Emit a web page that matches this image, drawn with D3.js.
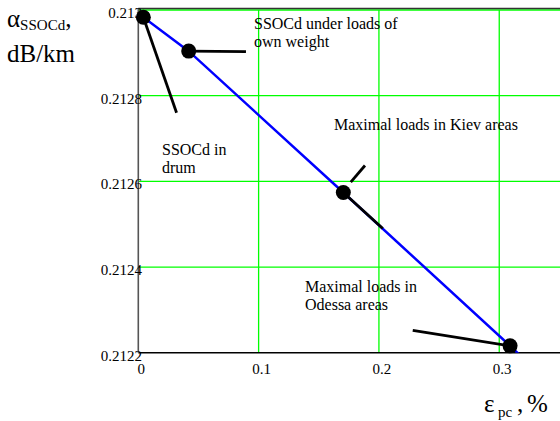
<!DOCTYPE html>
<html><head><meta charset="utf-8">
<script src="https://cdn.jsdelivr.net/npm/d3@7/dist/d3.min.js"></script>
<style>body{margin:0;background:#fff} svg{display:block}</style>
</head><body><svg id="c" width="560" height="421"></svg>
<script>
// Blue curve
const lineX = [0, 0.0419, 0.1704, 0.309, 0.33];
const lineY = [0.212992, 0.212904, 0.212574, 0.212216, 0.21216];
// Highlighted points
const markerX = [0.0042, 0.0419, 0.1704, 0.309];
const markerY = [0.212983, 0.212904, 0.212574, 0.212216];
// Ticks
const xTicks = [0, 0.1, 0.2, 0.3];
const xTickLabels = ["0", "0.1", "0.2", "0.3"];
const yTicks = [0.2122, 0.2124, 0.2126, 0.2128, 0.213];
const yTickLabels = ["0.2122", "0.2124", "0.2126", "0.2128", "0.213"];
// Leader lines (data units)
const leadX1 = [0.0042, 0.0419, 0.1766, 0.1704, 0.309];
const leadY1 = [0.212983, 0.212904, 0.212598, 0.212574, 0.212216];
const leadX2 = [0.0318, 0.0895, 0.1884, 0.2032, 0.2281];
const leadY2 = [0.21276, 0.212903, 0.212637, 0.21249, 0.212252];
// Annotation texts
const notes = [
  ["SSOCd under loads of", "own weight"],
  ["SSOCd in", "drum"],
  ["Maximal loads in Kiev areas"],
  ["Maximal loads in", "Odessa areas"]
];
const notePos = [[254, 29], [162, 155], [334, 130], [305, 292]];

const FONT = "Liberation Serif";
const svg = d3.select("#c");
const x = d3.scaleLinear().domain([0, 0.35]).range([138.3, 559.4]);
const y = d3.scaleLinear().domain([0.2122, 0.213]).range([352.7, 10]);

svg.append("defs").append("clipPath").attr("id", "clip")
  .append("rect").attr("x", x(0)).attr("y", y(0.213) - 2)
  .attr("width", x(0.35) - x(0)).attr("height", y(0.2122) - y(0.213) + 2);

// green grid
const g = svg.append("g");
g.selectAll("line.vx").data(xTicks.filter(d => d > 0)).join("line")
  .attr("x1", d => x(d)).attr("x2", d => x(d))
  .attr("y1", y(0.213)).attr("y2", y(0.2122))
  .attr("stroke", "#00ff00").attr("stroke-width", 1.3);
g.selectAll("line.hy").data(yTicks.filter(d => d > 0.2122)).join("line")
  .attr("x1", x(0)).attr("x2", 560)
  .attr("y1", d => y(d)).attr("y2", d => y(d))
  .attr("stroke", "#00ff00").attr("stroke-width", 1.3);

// frame
svg.append("line").attr("x1", x(0)).attr("x2", 560).attr("y1", 8.5).attr("y2", 8.5)
  .attr("stroke", "#333").attr("stroke-width", 1.5);
svg.append("line").attr("x1", x(0)).attr("x2", 560).attr("y1", y(0.2122)).attr("y2", y(0.2122))
  .attr("stroke", "#000").attr("stroke-width", 1.6);
svg.append("line").attr("x1", x(0)).attr("x2", x(0)).attr("y1", 8).attr("y2", y(0.2122))
  .attr("stroke", "#555").attr("stroke-width", 1.6);

// tick labels
svg.selectAll("text.xt").data(xTicks).join("text")
  .attr("font-family", FONT)
  .attr("x", d => x(d) + 3).attr("y", 374).attr("text-anchor", "middle")
  .attr("font-size", 15).text((d, i) => xTickLabels[i]);
svg.selectAll("text.yt").data(yTicks).join("text")
  .attr("font-family", FONT)
  .attr("x", 142).attr("y", d => y(d) + 8).attr("text-anchor", "end")
  .attr("font-size", 15).text((d, i) => yTickLabels[i]);

// blue line
const pts = lineX.map((d, i) => [d, lineY[i]]);
svg.append("path").datum(pts).attr("clip-path", "url(#clip)")
  .attr("d", d3.line().x(d => x(d[0])).y(d => y(d[1])))
  .attr("fill", "none").attr("stroke", "#0000ff").attr("stroke-width", 2.5);

// leader lines
svg.selectAll("line.lead").data(leadX1).join("line")
  .attr("x1", (d, i) => x(leadX1[i])).attr("y1", (d, i) => y(leadY1[i]))
  .attr("x2", (d, i) => x(leadX2[i])).attr("y2", (d, i) => y(leadY2[i]))
  .attr("stroke", "#000").attr("stroke-width", 2.8);

// markers
svg.selectAll("circle").data(markerX).join("circle")
  .attr("cx", d => x(d)).attr("cy", (d, i) => y(markerY[i])).attr("r", 7.5).attr("fill", "#000");

// annotations
notes.forEach((lines, i) => {
  const t = svg.append("text").attr("font-family", FONT).attr("font-size", 16);
  lines.forEach((s, j) => t.append("tspan").attr("x", notePos[i][0]).attr("y", notePos[i][1] + j * 17.5).text(s));
});

// axis titles
const ya = svg.append("text").attr("font-family", FONT).attr("x", 7).attr("y", 27).attr("font-size", 25);
ya.append("tspan").text("α");
ya.append("tspan").attr("font-size", 15).attr("dy", 3).text("SSOCd");
ya.append("tspan").attr("dy", -3).text(",");
svg.append("text").attr("font-family", FONT).attr("x", 7).attr("y", 62).attr("font-size", 25).text("dB/km");

svg.append("text").attr("font-family", FONT).attr("x", 484).attr("y", 412).attr("font-size", 25).text("ε");
svg.append("text").attr("font-family", FONT).attr("x", 498).attr("y", 417).attr("font-size", 15).text("pc");
svg.append("text").attr("font-family", FONT).attr("x", 517).attr("y", 412).attr("font-size", 25).text(",");
svg.append("text").attr("font-family", FONT).attr("x", 527).attr("y", 412).attr("font-size", 25).text("%");
</script></body></html>
